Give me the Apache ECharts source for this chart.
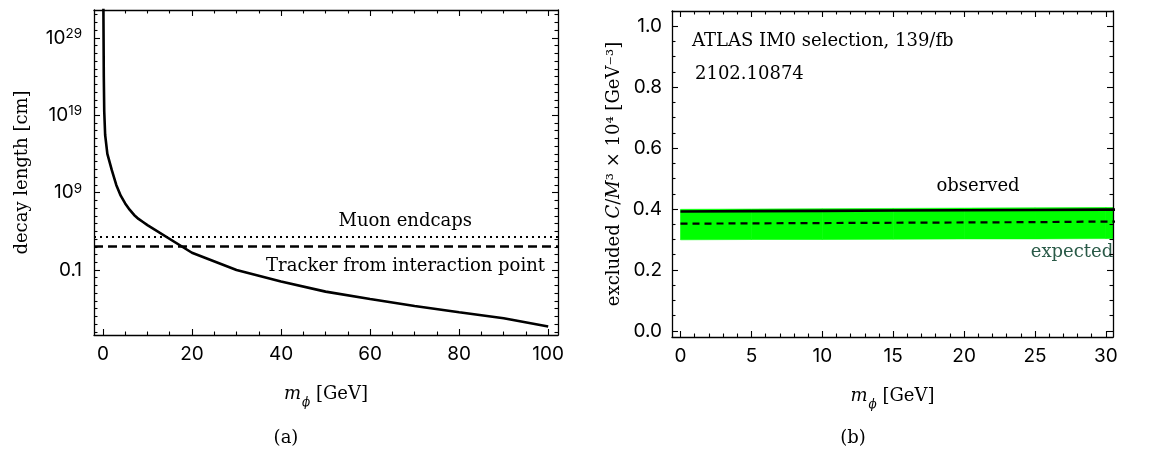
<!DOCTYPE html>
<html>
<head>
<meta charset="utf-8">
<script src="https://cdn.jsdelivr.net/npm/echarts@6/dist/echarts.min.js"></script>
<style>
html,body{margin:0;padding:0;background:#fff;}
#c{width:1151px;height:454px;}
</style>
</head>
<body>
<div id="c"></div>
<script>
// ---------- Panel (a): decay length vs mass ----------
const massA = [0.1, 0.2, 0.3, 0.5, 1, 2, 3, 4, 5, 6, 7, 8, 9, 10, 20, 30, 40, 50, 60, 70, 80, 90, 100];
const decayLength = [1e34, 1e24, 3e19, 3e16, 1e14, 8e11, 1e10, 4e8, 4e7, 6.3e6, 1.3e6, 4e5, 1.6e5, 6.3e4,
                     17, 0.1, 3.2e-3, 1.6e-4, 1.8e-5, 2.2e-6, 3.5e-7, 5.8e-8, 5e-9];
const muonEndcaps = 2000;   // cm
const trackerIP = 120;      // cm
const xTicksA = [0, 20, 40, 60, 80, 100];
const xMinorA = [5, 10, 15, 25, 30, 35, 45, 50, 55, 65, 70, 75, 85, 90, 95];
const yTickExpA = [-1, 9, 19, 29];
const yMinorExpA = [];
for (let e = -9; e <= 32; e++) if (yTickExpA.indexOf(e) < 0) yMinorExpA.push(e);

// ---------- Panel (b): excluded coupling ----------
const massB = [0, 5, 10, 15, 20, 25, 30, 31];
const observed = [0.392, 0.393, 0.394, 0.395, 0.396, 0.397, 0.398, 0.398];
const expected = [0.352, 0.353, 0.354, 0.355, 0.356, 0.357, 0.359, 0.359];
const bandLow  = [0.299, 0.300, 0.300, 0.301, 0.302, 0.302, 0.303, 0.303];
const bandHigh = [0.399, 0.400, 0.401, 0.402, 0.403, 0.404, 0.405, 0.405];
const xTicksB = [0, 5, 10, 15, 20, 25, 30];
const xMinorB = [];
for (let v = 0; v <= 30; v++) if (v % 5 !== 0) xMinorB.push(v);
const yTicksB = [0.0, 0.2, 0.4, 0.6, 0.8, 1.0];
const yMinorB = [0.05, 0.1, 0.15, 0.25, 0.3, 0.35, 0.45, 0.5, 0.55, 0.65, 0.7, 0.75, 0.85, 0.9, 0.95, 1.05];

// ---------- styling helpers ----------
const SANS = 'Inter';
const SERIF = 'DejaVu Serif';
const SERIF_FS = 18;
const TICK_FS = 19;
const MAJOR = 6, MINOR = 3.5;

function tickAxis(opts) {
  return {
    type: 'value',
    gridIndex: opts.grid,
    position: opts.position,
    min: opts.min, max: opts.max,
    axisLine: { show: !!opts.line, onZero: false, lineStyle: { color: '#000', width: 1.3 } },
    axisTick: { show: true, inside: true, length: opts.len, customValues: opts.ticks,
                lineStyle: { color: '#000', width: 1.1 } },
    axisLabel: { show: false },
    splitLine: { show: false },
    minorTick: { show: false },
    z: 5
  };
}

const nameRich = {
  i: { fontFamily: SERIF, fontStyle: 'italic', fontSize: SERIF_FS, lineHeight: 22 },
  sub: { fontFamily: SERIF, fontStyle: 'italic', fontSize: 12, lineHeight: 12, verticalAlign: 'bottom', padding: [0, 0, -4, 1] }
};

const xAxes = [];
const yAxes = [];

// panel a x axes
const xa0 = tickAxis({ grid: 0, position: 'bottom', min: -2, max: 102.2, len: MAJOR, ticks: xTicksA, line: true });
xa0.axisLabel = { show: true, customValues: xTicksA, margin: 10, color: '#000', fontFamily: SANS, fontSize: TICK_FS };
xa0.name = '{i|m}{sub|ϕ} [GeV]';
xa0.nameLocation = 'middle';
xa0.nameGap = 48;
xa0.nameTextStyle = { color: '#000', fontFamily: SERIF, fontSize: SERIF_FS, rich: nameRich };
xAxes.push(xa0);
xAxes.push(tickAxis({ grid: 0, position: 'bottom', min: -2, max: 102.2, len: MINOR, ticks: xMinorA }));
xAxes.push(tickAxis({ grid: 0, position: 'top', min: -2, max: 102.2, len: MAJOR, ticks: xTicksA, line: true }));
xAxes.push(tickAxis({ grid: 0, position: 'top', min: -2, max: 102.2, len: MINOR, ticks: xMinorA }));

// panel b x axes
const xb0 = tickAxis({ grid: 1, position: 'bottom', min: -0.6, max: 30.5, len: MAJOR, ticks: xTicksB, line: true });
xb0.axisLabel = { show: true, customValues: xTicksB, margin: 10, color: '#000', fontFamily: SANS, fontSize: TICK_FS };
xb0.name = '{i|m}{sub|ϕ} [GeV]';
xb0.nameLocation = 'middle';
xb0.nameGap = 48;
xb0.nameTextStyle = xa0.nameTextStyle;
xAxes.push(xb0);
xAxes.push(tickAxis({ grid: 1, position: 'bottom', min: -0.6, max: 30.5, len: MINOR, ticks: xMinorB }));
xAxes.push(tickAxis({ grid: 1, position: 'top', min: -0.6, max: 30.5, len: MAJOR, ticks: xTicksB, line: true }));
xAxes.push(tickAxis({ grid: 1, position: 'top', min: -0.6, max: 30.5, len: MINOR, ticks: xMinorB }));

// panel a y axes
yAxes.push({
  type: 'log', logBase: 10, gridIndex: 0, position: 'left',
  min: Math.pow(10, -9.4), max: Math.pow(10, 32.6),
  axisLine: { show: false, onZero: false }, axisTick: { show: false }, axisLabel: { show: false },
  splitLine: { show: false }, minorTick: { show: false }
});
const ya1 = tickAxis({ grid: 0, position: 'left', min: -9.4, max: 32.6, len: MAJOR, ticks: yTickExpA, line: true });
ya1.axisLabel = { show: true, customValues: yTickExpA, margin: 12, color: '#000', fontFamily: SANS, fontSize: TICK_FS,
  formatter: function (v) { return Math.round(v) === -1 ? '{b|0.1}' : '{b|10}{s|' + Math.round(v) + '}'; },
  rich: { b: { fontFamily: SANS, fontSize: TICK_FS, lineHeight: 22 },
          s: { fontFamily: SANS, fontSize: 13.5, lineHeight: 12, verticalAlign: 'top' } } };
ya1.name = 'decay length [cm]';
ya1.nameLocation = 'middle';
ya1.nameGap = 63;
ya1.nameTextStyle = { color: '#000', fontFamily: SERIF, fontSize: SERIF_FS };
yAxes.push(ya1);
yAxes.push(tickAxis({ grid: 0, position: 'left', min: -9.4, max: 32.6, len: MINOR, ticks: yMinorExpA }));
yAxes.push(tickAxis({ grid: 0, position: 'right', min: -9.4, max: 32.6, len: MAJOR, ticks: yTickExpA, line: true }));
yAxes.push(tickAxis({ grid: 0, position: 'right', min: -9.4, max: 32.6, len: MINOR, ticks: yMinorExpA }));

// panel b y axes
const yb0 = tickAxis({ grid: 1, position: 'left', min: -0.02, max: 1.05, len: MAJOR, ticks: yTicksB, line: true });
yb0.axisLabel = { show: true, customValues: yTicksB, margin: 10, color: '#000', fontFamily: SANS, fontSize: TICK_FS,
  formatter: function (v) { return v.toFixed(1); } };
yb0.name = 'excluded {i|C}/{i|M}³ × 10⁴ [GeV⁻³]';
yb0.nameLocation = 'middle';
yb0.nameGap = 49;
yb0.nameTextStyle = { color: '#000', fontFamily: SERIF, fontSize: SERIF_FS,
  rich: { i: { fontFamily: SERIF, fontStyle: 'italic', fontSize: SERIF_FS } } };
yAxes.push(yb0);
yAxes.push(tickAxis({ grid: 1, position: 'left', min: -0.02, max: 1.05, len: MINOR, ticks: yMinorB }));
yAxes.push(tickAxis({ grid: 1, position: 'right', min: -0.02, max: 1.05, len: MAJOR, ticks: yTicksB, line: true }));
yAxes.push(tickAxis({ grid: 1, position: 'right', min: -0.02, max: 1.05, len: MINOR, ticks: yMinorB }));

const pairs = (xs, ys) => xs.map((x, i) => [x, ys[i]]);
const bandRows = massB.map((x, i) => [x, bandLow[i], bandHigh[i]]);

function renderBand(params, api) {
  const i = params.dataIndex;
  if (i >= bandRows.length - 1) return null;
  const a = bandRows[i], b = bandRows[i + 1];
  const pts = [
    api.coord([a[0], a[1]]), api.coord([b[0], b[1]]),
    api.coord([b[0], b[2]]), api.coord([a[0], a[2]])
  ];
  const cs = params.coordSys;
  const clipped = echarts.graphic.clipPointsByRect(pts, { x: cs.x, y: cs.y, width: cs.width, height: cs.height });
  return {
    type: 'polygon',
    shape: { points: clipped },
    style: { fill: '#00ff00', stroke: '#00ff00', lineWidth: 0.6 }
  };
}

const textStyle = (text, x, y, align, fill) => ({
  type: 'text',
  style: { text: text, x: x, y: y, align: align, verticalAlign: 'middle', fontFamily: SERIF, fontSize: SERIF_FS, fill: fill || '#000' }
});

const option = {
  backgroundColor: '#fff',
  animation: false,
  grid: [
    { left: 94, top: 10, width: 464, height: 325, containLabel: false },
    { left: 672, top: 11, width: 441, height: 326, containLabel: false }
  ],
  xAxis: xAxes,
  yAxis: yAxes,
  series: [
    {
      type: 'line', name: 'decay length', xAxisIndex: 0, yAxisIndex: 0,
      data: pairs(massA, decayLength), showSymbol: false, symbol: 'none',
      lineStyle: { color: '#000', width: 2.6 }, z: 3,
      markLine: {
        silent: true, symbol: 'none', label: { show: false },
        data: [
          { yAxis: muonEndcaps, lineStyle: { color: '#000', width: 2, type: [2, 4] } },
          { yAxis: trackerIP, lineStyle: { color: '#000', width: 2.5, type: [9, 5] } }
        ]
      }
    },
    {
      type: 'custom', name: 'band', xAxisIndex: 4, yAxisIndex: 5,
      data: bandRows, renderItem: renderBand, encode: { x: 0, y: [1, 2] }, z: 1, silent: true
    },
    {
      type: 'line', name: 'observed', xAxisIndex: 4, yAxisIndex: 5,
      data: pairs(massB, observed), symbol: 'none', lineStyle: { color: '#000', width: 2.6 }, z: 3
    },
    {
      type: 'line', name: 'expected', xAxisIndex: 4, yAxisIndex: 5,
      data: pairs(massB, expected), symbol: 'none', lineStyle: { color: '#000', width: 2.2, type: [7, 5] }, z: 3
    }
  ],
  graphic: [
    textStyle('Muon endcaps', 472, 221, 'right'),
    textStyle('Tracker from interaction point', 545, 266, 'right'),
    textStyle('ATLAS IM0 selection, 139/fb', 692, 41, 'left'),
    textStyle('2102.10874', 695, 74, 'left'),
    textStyle('observed', 978, 186, 'center'),
    textStyle('expected', 1072, 252, 'center', '#2a5a48'),
    textStyle('(a)', 286, 438, 'center'),
    textStyle('(b)', 853, 438, 'center')
  ]
};

const chart = echarts.init(document.getElementById('c'), null, { renderer: 'canvas' });
chart.setOption(option);
</script>
</body>
</html>
